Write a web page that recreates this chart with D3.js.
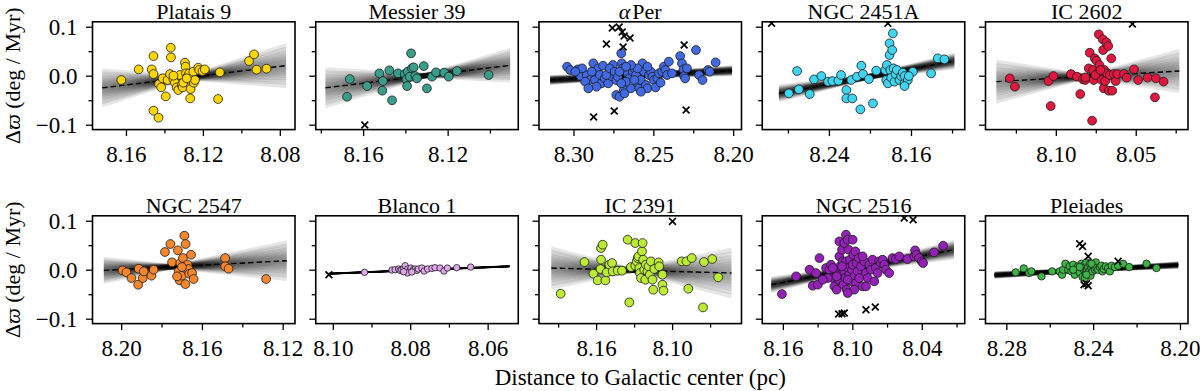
<!DOCTYPE html>
<html>
<head>
<meta charset="utf-8">
<script src="https://cdn.jsdelivr.net/npm/d3@7/dist/d3.min.js"></script>
<style>
    body { margin: 0; background: #fff; }
</style>
</head>
<body>
<div id="chart"></div>
<script>
// ---- data ----
const clusterNames = ["Platais 9", "Messier 39", "αPer", "NGC 2451A", "IC 2602",
    "NGC 2547", "Blanco 1", "IC 2391", "NGC 2516", "Pleiades"];

const yLimits = [-0.11, 0.11];
const yTicks = [-0.1, 0, 0.1];
const yMinorTicks = [-0.05, 0.05];

// x axes run from large to small distance
const xLimits = [
    [8.1774, 8.0721], [8.1824, 8.0866], [8.3216, 8.1948], [8.305, 8.1076], [8.144, 8.0173],
    [8.2142, 8.1139], [8.1044, 8.0521], [8.2051, 8.0452], [8.1778, 8.0029], [8.2896, 8.1963]
];
const xTicks = [
    [8.16, 8.12, 8.08], [8.16, 8.12], [8.30, 8.25, 8.20], [8.24, 8.16], [8.10, 8.05],
    [8.20, 8.16, 8.12], [8.10, 8.08, 8.06], [8.16, 8.10], [8.16, 8.10, 8.04], [8.28, 8.24, 8.20]
];
const xMinorTicks = [
    [8.14, 8.10], [8.18, 8.14, 8.10], [8.275, 8.225], [8.28, 8.20, 8.12], [8.125, 8.075, 8.025],
    [8.18, 8.14], [8.09, 8.07], [8.19, 8.13, 8.07], [8.13, 8.07, 8.01], [8.26, 8.22]
];

// linear fit: pivot (x0, y0), slope, slope / offset uncertainty, drawn range
const fits = [
    {x0: 8.1285, y0: -0.0040, slope: -0.475, slopeSd: 0.34, offsetSd: 0.003, from: 8.1724, to: 8.0767},
    {x0: 8.1300, y0: 0.0004, slope: -0.525, slopeSd: 0.33, offsetSd: 0.003, from: 8.1778, to: 8.0904},
    {x0: 8.2620, y0: 0.0000, slope: -0.167, slopeSd: 0.04, offsetSd: 0.0032, from: 8.3146, to: 8.2007},
    {x0: 8.2000, y0: -0.0018, slope: -0.386, slopeSd: 0.06, offsetSd: 0.0032, from: 8.2888, to: 8.1177},
    {x0: 8.0800, y0: -0.0013, slope: -0.190, slopeSd: 0.30, offsetSd: 0.003, from: 8.1372, to: 8.0227},
    {x0: 8.1740, y0: 0.0061, slope: -0.218, slopeSd: 0.28, offsetSd: 0.003, from: 8.2086, to: 8.1180},
    {x0: 8.0800, y0: -0.0014, slope: -0.322, slopeSd: 0.01, offsetSd: 0.0006, from: 8.1010, to: 8.0544},
    {x0: 8.1310, y0: -0.0012, slope: 0.0717, slopeSd: 0.26, offsetSd: 0.003, from: 8.1954, to: 8.0531},
    {x0: 8.1000, y0: 0.0010, slope: -0.452, slopeSd: 0.07, offsetSd: 0.0033, from: 8.1700, to: 8.0122},
    {x0: 8.2430, y0: -0.0007, slope: -0.241, slopeSd: 0.035, offsetSd: 0.0024, from: 8.2854, to: 8.2008}
];

const platais9 = [[8.1624,-0.0088],[8.1534,0.0129],[8.1457,0.0401],[8.1466,0.0129],[8.1457,0.0034],[8.1457,-0.0714],
    [8.1431,-0.0857],[8.1428,-0.0170],[8.1417,-0.0238],[8.1393,-0.0422],[8.1409,-0.0054],[8.1384,-0.0088],[8.1367,0.0571],
    [8.1366,0.0374],[8.1371,0.0034],[8.1353,-0.0075],[8.1345,-0.0143],[8.1336,-0.0238],[8.1328,-0.0293],[8.1319,0.0014],
    [8.1310,-0.0190],[8.1305,-0.0238],[8.1302,-0.0143],[8.1293,0.0265],[8.1290,0.0184],[8.1288,0.0048],[8.1281,-0.0020],
    [8.1271,0.0048],[8.1267,-0.0088],[8.1264,-0.0272],[8.1266,-0.0463],[8.1259,-0.0054],[8.1250,0.0082],[8.1247,-0.0143],
    [8.1241,-0.0088],[8.1224,0.0163],[8.1219,0.0116],[8.1202,0.0095],[8.1190,0.0129],[8.1121,-0.0476],[8.1112,0.0068],
    [8.0960,0.0299],[8.0934,0.0435],[8.0921,0.0122],[8.0869,0.0143],[8.1353,0.0000],[8.1284,-0.0054]];
const platais9Rejected = [];

const messier39 = [[8.1663,-0.0068],[8.1676,-0.0429],[8.1581,-0.0211],[8.1523,0.0048],[8.1506,-0.0109],[8.1509,-0.0306],
    [8.1476,0.0109],[8.1463,-0.0503],[8.1435,0.0048],[8.1403,0.0034],[8.1395,-0.0075],[8.1392,-0.0211],[8.1389,0.0082],
    [8.1380,-0.0020],[8.1373,0.0456],[8.1369,0.0150],[8.1361,0.0170],[8.1353,-0.0007],[8.1345,-0.0054],[8.1313,0.0197],
    [8.1298,-0.0259],[8.1274,-0.0020],[8.1255,0.0068],[8.1216,0.0061],[8.1195,-0.0020],[8.1156,0.0095],[8.1006,0.0014]];
const messier39Rejected = [[8.1592,-0.1007]];

const alphaPer = [[8.3040,0.0184],[8.3020,0.0116],[8.2972,0.0129],[8.2956,-0.0007],[8.2917,0.0014],[8.2897,-0.0088],
    [8.2876,0.0252],[8.2866,-0.0088],[8.2845,0.0150],[8.2835,0.0014],[8.2825,-0.0156],[8.2815,0.0204],[8.2804,-0.0054],
    [8.2886,0.0082],[8.2856,-0.0224],[8.2927,-0.0122],[8.2907,-0.0258],[8.2783,-0.0156],[8.2763,-0.0007],[8.2753,0.0218],
    [8.2794,0.0014],[8.2773,0.0150],[8.2742,0.0082],[8.2732,-0.0088],[8.2732,-0.0394],[8.2712,-0.0429],[8.2701,0.0456],
    [8.2697,0.0252],[8.2691,0.0150],[8.2685,-0.0293],[8.2681,-0.0361],[8.2660,0.0048],[8.2650,-0.0054],[8.2640,-0.0258],
    [8.2629,0.0082],[8.2619,0.0150],[8.2609,0.0014],[8.2599,-0.0156],[8.2588,-0.0258],[8.2578,-0.0088],[8.2568,0.0252],
    [8.2558,0.0082],[8.2547,-0.0190],[8.2537,-0.0258],[8.2527,0.0014],[8.2516,0.0082],[8.2506,-0.0020],[8.2496,-0.0088],
    [8.2486,-0.0238],[8.2475,-0.0054],[8.2465,0.0048],[8.2455,-0.0143],[8.2445,0.0082],[8.2434,0.0184],[8.2424,0.0116],
    [8.2414,0.0014],[8.2403,0.0286],[8.2383,0.0048],[8.2332,0.0401],[8.2321,0.0252],[8.2311,0.0129],[8.2307,-0.0007],
    [8.2301,-0.0054],[8.2290,0.0150],[8.2233,0.0524],[8.2214,0.0014],[8.2192,-0.0088],[8.2157,0.0116],[8.2110,0.0272],
    [8.2147,0.0082],[8.2722,-0.0020],[8.2671,-0.0122],[8.2619,-0.0088],[8.2701,-0.0156],[8.2946,0.0150],[8.2989,0.0082],
    [8.2599,0.0150],[8.2537,0.0184],[8.2640,0.0218],[8.2578,-0.0327],[8.2712,0.0082],[8.2671,0.0184]];
const alphaPerRejected = [[8.2794,0.0647],[8.2757,0.0973],[8.2714,0.0994],[8.2695,0.0892],[8.2683,0.0810],[8.2646,0.0769],
    [8.2689,0.0586],[8.2874,-0.0843],[8.2745,-0.0720],[8.2307,0.0627],[8.2295,-0.0700]];

const ngc2451a = [[8.2791,-0.0361],[8.2710,0.0095],[8.2693,-0.0279],[8.2587,-0.0374],[8.2545,-0.0075],[8.2474,-0.0007],
    [8.2408,-0.0122],[8.2366,-0.0109],[8.2308,-0.0102],[8.2282,0.0014],[8.2230,-0.0293],[8.2230,-0.0463],[8.2172,-0.0463],
    [8.2182,-0.0088],[8.2127,-0.0020],[8.2094,-0.0687],[8.2084,0.0204],[8.2068,0.0034],[8.2010,-0.0068],[8.1971,-0.0565],
    [8.1939,0.0102],[8.1851,0.0116],[8.1835,0.0218],[8.1841,-0.0088],[8.1825,-0.0156],[8.1809,0.0660],[8.1809,0.0422],
    [8.1802,0.0116],[8.1793,-0.0041],[8.1783,0.0524],[8.1777,0.0864],[8.1770,0.0150],[8.1761,-0.0122],[8.1751,0.0034],
    [8.1738,0.0116],[8.1712,-0.0088],[8.1696,-0.0007],[8.1680,0.0061],[8.1663,-0.0156],[8.1647,-0.0034],[8.1663,-0.0007],
    [8.1631,-0.0088],[8.1582,0.0082],[8.1663,-0.0211],[8.1404,0.0048],[8.1339,0.0354],[8.1274,0.0333],[8.1621,-0.0007]];
const ngc2451aRejected = [[8.1825,0.1068],[8.2959,0.1070]];

const ic2602 = [[8.1288,-0.0054],[8.1256,-0.0224],[8.1046,-0.0109],[8.1032,-0.0619],[8.1015,-0.0007],[8.0905,0.0034],
    [8.0868,-0.0020],[8.0847,-0.0374],[8.0830,-0.0075],[8.0815,-0.0088],[8.0794,0.0150],[8.0788,0.0469],[8.0773,-0.0918],
    [8.0767,0.0116],[8.0763,-0.0088],[8.0756,0.0354],[8.0746,0.0306],[8.0742,0.0034],[8.0731,0.0844],[8.0731,0.0082],
    [8.0727,0.0218],[8.0721,-0.0007],[8.0714,-0.0088],[8.0706,0.0741],[8.0704,0.0524],[8.0700,-0.0258],[8.0696,0.0116],
    [8.0691,-0.0109],[8.0683,0.0680],[8.0679,0.0048],[8.0672,0.0605],[8.0668,-0.0306],[8.0662,0.0014],[8.0653,0.0354],
    [8.0647,-0.0306],[8.0637,0.0034],[8.0626,-0.0109],[8.0616,0.0034],[8.0574,0.0034],[8.0557,-0.0041],[8.0511,0.0129],
    [8.0485,-0.0088],[8.0426,-0.0041],[8.0380,-0.0442],[8.0374,-0.0054],[8.0326,-0.0122],[8.0815,-0.0034],[8.0752,0.0014],
    [8.0721,0.0116]];
const ic2602Rejected = [[8.0521,0.1054]];

const ngc2547 = [[8.1993,-0.0014],[8.1974,-0.0054],[8.1949,-0.0170],[8.1916,-0.0306],[8.1913,0.0020],[8.1893,-0.0170],
    [8.1888,-0.0034],[8.1850,-0.0122],[8.1839,0.0000],[8.1783,0.0361],[8.1756,0.0524],[8.1748,0.0150],[8.1719,0.0395],
    [8.1715,-0.0034],[8.1710,-0.0218],[8.1707,0.0136],[8.1699,-0.0122],[8.1694,0.0238],[8.1687,0.0694],[8.1686,0.0068],
    [8.1681,0.0524],[8.1682,-0.0293],[8.1674,0.0000],[8.1671,0.0102],[8.1666,0.0014],[8.1663,-0.0082],[8.1654,0.0306],
    [8.1649,-0.0068],[8.1641,-0.0190],[8.1699,0.0054],[8.1723,-0.0136],[8.1485,0.0238],[8.1485,0.0068],[8.1468,0.0020],
    [8.1282,-0.0190]];
const ngc2547Rejected = [];

const blanco1 = [[8.0918,-0.0054],[8.0847,-0.0007],[8.0839,0.0000],[8.0830,0.0014],[8.0826,-0.0014],[8.0822,0.0000],
    [8.0817,0.0027],[8.0813,0.0082],[8.0810,-0.0034],[8.0807,0.0014],[8.0800,-0.0007],[8.0798,0.0034],[8.0792,0.0000],
    [8.0787,0.0014],[8.0783,-0.0014],[8.0779,0.0014],[8.0770,0.0034],[8.0764,-0.0027],[8.0755,0.0014],[8.0744,0.0027],
    [8.0736,0.0041],[8.0723,0.0034],[8.0713,-0.0027],[8.0704,0.0034],[8.0680,0.0041],[8.0644,0.0054],[8.0807,-0.0068],
    [8.0796,-0.0048],[8.0817,-0.0041]];
const blanco1Rejected = [[8.1010,-0.0102]];

const ic2391 = [[8.1880,-0.0490],[8.1692,0.0156],[8.1621,-0.0082],[8.1587,-0.0218],[8.1561,0.0442],[8.1561,0.0204],
    [8.1548,0.0510],[8.1566,0.0014],[8.1527,-0.0218],[8.1516,-0.0054],[8.1495,0.0102],[8.1474,0.0136],[8.1469,-0.0034],
    [8.1430,-0.0020],[8.1396,-0.0020],[8.1351,0.0612],[8.1338,-0.0667],[8.1325,0.0054],[8.1291,0.0544],[8.1291,0.0082],
    [8.1280,0.0170],[8.1272,0.0238],[8.1265,0.0272],[8.1259,0.0034],[8.1254,-0.0068],[8.1246,-0.0170],[8.1238,0.0374],
    [8.1233,0.0544],[8.1228,0.0204],[8.1220,0.0000],[8.1212,-0.0204],[8.1207,0.0102],[8.1194,-0.0034],[8.1186,0.0068],
    [8.1176,-0.0102],[8.1168,0.0170],[8.1155,-0.0204],[8.1149,-0.0408],[8.1141,0.0014],[8.1107,0.0150],[8.1102,0.0068],
    [8.1076,-0.0306],[8.1068,-0.0429],[8.1076,-0.0102],[8.0924,0.0170],[8.0887,0.0170],[8.0845,0.0238],[8.0872,-0.0388],
    [8.0756,-0.0769],[8.0748,0.0156],[8.0683,0.0218],[8.0636,-0.0156]];
const ic2391Rejected = [[8.0997,0.0986]];

const ngc2516 = [[8.1608,-0.0497],[8.1485,-0.0136],[8.1370,0.0000],[8.1342,-0.0327],[8.1298,-0.0306],[8.1313,-0.0068],
    [8.1284,0.0238],[8.1227,0.0034],[8.1198,0.0000],[8.1184,0.0102],[8.1169,-0.0170],[8.1155,-0.0340],[8.1141,0.0000],
    [8.1135,-0.0408],[8.1126,-0.0068],[8.1118,-0.0204],[8.1112,0.0272],[8.1106,0.0068],[8.1098,-0.0102],[8.1089,0.0408],
    [8.1083,0.0170],[8.1077,-0.0306],[8.1069,-0.0034],[8.1060,-0.0170],[8.1055,0.0170],[8.1055,0.0714],[8.1049,-0.0408],
    [8.1040,0.0034],[8.1032,0.0408],[8.1026,-0.0102],[8.1020,0.0204],[8.1011,-0.0238],[8.1003,0.0000],[8.0997,0.0102],
    [8.0991,0.0306],[8.0983,-0.0136],[8.0974,0.0374],[8.0968,-0.0272],[8.0963,0.0136],[8.0954,-0.0034],[8.0945,0.0238],
    [8.0940,-0.0170],[8.0925,0.0068],[8.0911,-0.0340],[8.0897,0.0170],[8.0882,-0.0068],[8.0868,-0.0170],[8.0854,0.0102],
    [8.0839,0.0000],[8.0825,0.0204],[8.0811,-0.0238],[8.0796,0.0034],[8.0782,-0.0068],[8.0768,0.0170],[8.0753,0.0136],
    [8.0739,0.0204],[8.0724,0.0102],[8.0710,0.0000],[8.0681,-0.0068],[8.0653,0.0238],[8.0624,0.0218],[8.0595,0.0272],
    [8.0524,0.0218],[8.1112,0.0578],[8.1069,0.0544],[8.1040,0.0612],[8.0997,0.0612],[8.1135,-0.0136],[8.1089,0.0068],
    [8.1040,-0.0204],[8.1169,0.0034],[8.1212,-0.0170],[8.1255,-0.0204],[8.0983,-0.0408],[8.1040,-0.0476],[8.0882,-0.0340],
    [8.0911,0.0272],[8.0466,0.0272],[8.0458,0.0395],[8.0446,0.0306],[8.0423,0.0238],[8.0400,0.0170],[8.0389,0.0136],
    [8.0294,0.0354],[8.0216,0.0490]];
const ngc2516Rejected = [[8.1118,-0.0905],[8.1089,-0.0898],[8.1069,-0.0884],[8.0882,-0.0816],[8.0802,-0.0762],
    [8.0475,0.1020],[8.0552,0.1054]];

const pleiades = [[8.2757,-0.0054],[8.2720,0.0027],[8.2695,-0.0068],[8.2685,-0.0034],[8.2638,-0.0136],[8.2589,-0.0034],
    [8.2554,-0.0034],[8.2543,-0.0102],[8.2538,0.0000],[8.2528,0.0122],[8.2515,0.0000],[8.2508,0.0068],[8.2500,-0.0034],
    [8.2492,0.0102],[8.2485,-0.0102],[8.2477,0.0000],[8.2469,0.0068],[8.2462,-0.0054],[8.2454,0.0122],[8.2449,-0.0150],
    [8.2446,0.0014],[8.2443,0.0082],[8.2438,-0.0170],[8.2434,-0.0068],[8.2431,0.0150],[8.2428,0.0000],[8.2423,0.0054],
    [8.2418,-0.0034],[8.2415,0.0122],[8.2412,-0.0122],[8.2408,0.0034],[8.2403,-0.0034],[8.2400,0.0082],[8.2392,0.0000],
    [8.2388,0.0150],[8.2385,0.0034],[8.2377,0.0000],[8.2369,0.0054],[8.2362,0.0082],[8.2357,-0.0034],[8.2351,0.0014],
    [8.2342,0.0068],[8.2331,0.0034],[8.2323,-0.0034],[8.2315,0.0082],[8.2300,0.0054],[8.2285,0.0082],[8.2262,0.0122],
    [8.2234,0.0054],[8.2154,0.0122],[8.2108,0.0034],[8.2462,0.0054],[8.2431,-0.0102],[8.2408,0.0122],[8.2492,0.0000]];
const pleiadesRejected = [[8.2462,0.0531],[8.2449,0.0476],[8.2423,0.0272],[8.2442,-0.0306],[8.2431,-0.0286],
    [8.2423,-0.0327],[8.2285,0.0170]];

const members = [platais9, messier39, alphaPer, ngc2451a, ic2602, ngc2547, blanco1, ic2391, ngc2516, pleiades];
const rejected = [platais9Rejected, messier39Rejected, alphaPerRejected, ngc2451aRejected, ic2602Rejected,
    ngc2547Rejected, blanco1Rejected, ic2391Rejected, ngc2516Rejected, pleiadesRejected];

// ---- style ----
const clusterColors = ["#ffd700", "#3a9d8c", "#4169e1", "#3fd4f0", "#e0173f",
    "#f5862c", "#e2a8ee", "#bceb35", "#9520b8", "#3cb446"];
const markerRadius = [4.4, 4.4, 4.4, 4.4, 4.4, 4.4, 3.2, 4.4, 4.4, 3.7];
// sample offsets (in sd units) used to draw the fan of fitted lines
const fanSlopeSteps = [-2.3, -1.9, -1.6, -1.35, -1.15, -0.95, -0.8, -0.65, -0.5, -0.38, -0.25, -0.12, 0,
    0.12, 0.25, 0.38, 0.5, 0.65, 0.8, 0.95, 1.15, 1.35, 1.6, 1.9, 2.3];
const fanOffsetSteps = [-1.5, -0.9, -0.3, 0.3, 0.9, 1.5];

class ClusterPanel {
    constructor(svg, index) {
        this._svg = svg;
        this._index = index;
        this._width = 202.5;
        this._height = 107.8;
        this._left = 92.5 + (index % 5) * 223.25;
        this._top = [21.8, 215.8][Math.floor(index / 5)];
        this._body = null;
    }

    render() {
        const i = this._index;
        this._scaleX = d3.scaleLinear().domain(xLimits[i]).range([0, this._width]);
        this._scaleY = d3.scaleLinear().domain(yLimits).range([this._height, 0]);
        this._body = this._svg.append("g")
            .attr("transform", `translate(${this._left},${this._top})`);

        this._body.append("clipPath").attr("id", "clip" + i)
            .append("rect").attr("width", this._width).attr("height", this._height);
        this._marks = this._body.append("g").attr("clip-path", `url(#clip${i})`);

        this.renderFan();
        this.renderPoints();
        this.renderAxes();
        this.renderTitle();

        this._body.append("rect")
            .attr("width", this._width)
            .attr("height", this._height)
            .attr("fill", "none")
            .attr("stroke", "#000")
            .attr("stroke-width", 1.6);
        return this;
    }

    fitLine(slope, y0) {
        const f = fits[this._index];
        return [f.from, f.to].map(d => [this._scaleX(d), this._scaleY(y0 + slope * (d - f.x0))]);
    }

    renderFan() {
        const f = fits[this._index];
        const line = d3.line();
        const samples = [];
        fanSlopeSteps.forEach(s => fanOffsetSteps.forEach(o => {
            samples.push(this.fitLine(f.slope + s * f.slopeSd, f.y0 + o * f.offsetSd));
        }));
        this._marks.append("g").selectAll("path")
            .data(samples)
            .join("path")
            .attr("d", line)
            .attr("fill", "none")
            .attr("stroke", "#000")
            .attr("stroke-opacity", 0.09)
            .attr("stroke-width", 1);

        this._marks.append("path")
            .attr("d", line(this.fitLine(f.slope, f.y0)))
            .attr("fill", "none")
            .attr("stroke", "#000")
            .attr("stroke-width", 1.4)
            .attr("stroke-dasharray", "5.5,3");
    }

    renderPoints() {
        const i = this._index, x = this._scaleX, y = this._scaleY;
        this._marks.append("g").selectAll("circle")
            .data(members[i])
            .join("circle")
            .attr("cx", d => x(d[0]))
            .attr("cy", d => y(d[1]))
            .attr("r", markerRadius[i])
            .attr("fill", clusterColors[i])
            .attr("stroke", "#1a1a1a")
            .attr("stroke-width", 0.8);

        const s = 3.4;
        this._marks.append("g").selectAll("path")
            .data(rejected[i])
            .join("path")
            .attr("transform", d => `translate(${x(d[0])},${y(d[1])})`)
            .attr("d", `M${-s},${-s}L${s},${s}M${-s},${s}L${s},${-s}`)
            .attr("stroke", "#000")
            .attr("stroke-width", 1.7);
    }

    renderAxes() {
        const i = this._index;
        const xAxis = this._body.append("g")
            .attr("transform", `translate(0,${this._height})`)
            .call(d3.axisBottom(this._scaleX).tickValues(xTicks[i])
                .tickFormat(d3.format(".2f")).tickSize(6.5).tickSizeOuter(0).tickPadding(9.5));
        const xMinor = this._body.append("g")
            .attr("transform", `translate(0,${this._height})`)
            .call(d3.axisBottom(this._scaleX).tickValues(xMinorTicks[i])
                .tickFormat("").tickSize(4).tickSizeOuter(0));

        const yAxis = this._body.append("g")
            .call(d3.axisLeft(this._scaleY).tickValues(yTicks)
                .tickFormat(i % 5 === 0 ? (d => d3.format(".1f")(d).replace("-", "\u2212")) : "")
                .tickSize(6.5).tickSizeOuter(0).tickPadding(8.5));
        const yMinor = this._body.append("g")
            .call(d3.axisLeft(this._scaleY).tickValues(yMinorTicks)
                .tickFormat("").tickSize(4).tickSizeOuter(0));

        [xAxis, xMinor, yAxis, yMinor].forEach(a => {
            a.select(".domain").remove();
            a.selectAll("line").attr("stroke", "#000").attr("stroke-width", 1.3);
            a.selectAll("text").attr("fill", "#000")
                .style("font-size", "23px")
                .style("font-family", "'Liberation Serif', 'Times New Roman', serif");
        });
    }

    renderTitle() {
        const name = clusterNames[this._index];
        const t = this._body.append("text")
            .attr("x", this._width / 2)
            .attr("y", -2.6)
            .attr("text-anchor", "middle")
            .style("font-size", "22px");
        if (name.startsWith("α")) {
            t.append("tspan").style("font-style", "italic").text("α");
            t.append("tspan").attr("dx", 2).text(name.slice(1));
        } else {
            t.text(name);
        }
    }
}

const svg = d3.select("#chart").append("svg")
    .attr("width", 1200)
    .attr("height", 391)
    .style("font-family", "'Liberation Serif', 'Times New Roman', serif");

clusterNames.forEach((d, i) => new ClusterPanel(svg, i).render());

// shared axis labels
[75.7, 269.7].forEach(cy => {
    const t = svg.append("text")
        .attr("transform", `translate(19.8,${cy}) rotate(-90)`)
        .attr("text-anchor", "middle")
        .style("font-size", "22px");
    t.append("tspan").text("Δ");
    t.append("tspan").style("font-style", "italic").text("ϖ");
    t.append("tspan").text(" (deg / Myr)");
});

svg.append("text")
    .attr("x", 640.25)
    .attr("y", 385)
    .attr("text-anchor", "middle")
    .style("font-size", "23px")
    .text("Distance to Galactic center (pc)");
</script>
</body>
</html>
